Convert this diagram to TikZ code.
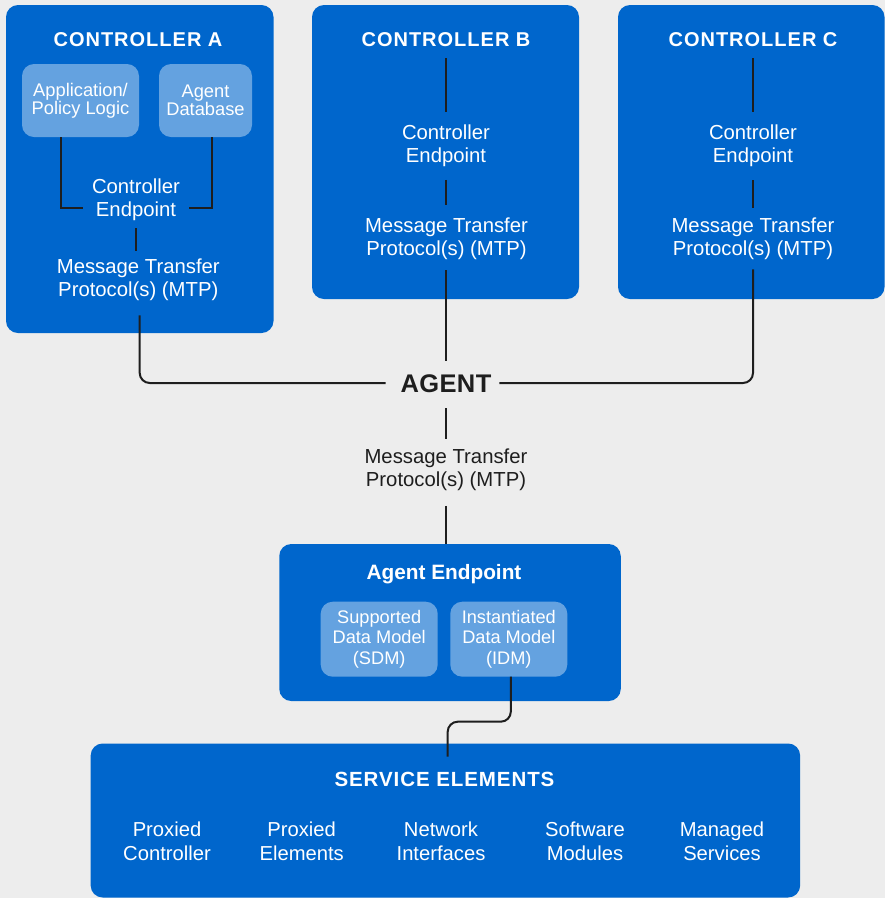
\documentclass[tikz,border=0pt]{standalone}
\usepackage{fontspec}
\setmainfont{Liberation Sans}
\definecolor{bgc}{HTML}{EDEDED}
\definecolor{blu}{HTML}{0066CC}
\definecolor{lblu}{HTML}{64A2E0}
\definecolor{ink}{HTML}{1E1E1E}
\tikzset{
  box/.style={fill=blu, rounded corners=12pt, inner sep=0pt, outer sep=0pt},
  subbox/.style={fill=lblu, rounded corners=12pt, inner sep=0pt, outer sep=0pt, text=white, align=center},
  ttl/.style={text=white, font=\bfseries\fontsize{20}{24}\selectfont\addfontfeatures{LetterSpace=5}, inner sep=0pt, outer sep=0pt},
  lbl/.style={text=white, align=center, font=\fontsize{20.3}{23}\selectfont, inner sep=0pt, outer sep=0pt},
  darklbl/.style={lbl, text=ink},
  item/.style={text=white, align=center, font=\fontsize{20.2}{24}\selectfont, inner sep=0pt, outer sep=0pt},
  link/.style={draw=ink, line width=2pt},
}
\begin{document}
\begin{tikzpicture}[x=1pt,y=-1pt]
\fill[bgc] (0,0) rectangle (885,898);
\useasboundingbox (0,0) rectangle (885,898);

% controller boxes
\node[box, minimum width=267.5pt, minimum height=328pt] (ctrlA) at (139.75,169) {};
\node[box, minimum width=267pt, minimum height=294pt] (ctrlB) at (445.5,152) {};
\node[box, minimum width=266.5pt, minimum height=294pt] (ctrlC) at (751.25,152) {};

% titles
\node[ttl] (ttlA) at (138,40) {CONTROLLER A};
\node[ttl] (ttlB) at (446,40) {CONTROLLER B};
\node[ttl] (ttlC) at (753,40) {CONTROLLER C};

% controller A internals
\node[subbox, minimum width=117pt, minimum height=73pt, font=\fontsize{18.3}{18}\selectfont] (appA) at (80.5,100.5) {Application/\\Policy Logic};
\node[subbox, minimum width=93pt, minimum height=73pt, font=\fontsize{18.3}{18}\selectfont] (dbA) at (205.5,100.5) {Agent\\Database};
\node[lbl] (cepA) at (136,199.5) {Controller\\Endpoint};
\node[lbl] (mtpA) at (138.3,279.5) {Message Transfer\\Protocol(s) (MTP)};

% controller B internals
\node[lbl] (cepB) at (446,145.5) {Controller\\Endpoint};
\node[lbl] (mtpB) at (446.5,238.5) {Message Transfer\\Protocol(s) (MTP)};

% controller C internals
\node[lbl] (cepC) at (753,145.5) {Controller\\Endpoint};
\node[lbl] (mtpC) at (753,238.5) {Message Transfer\\Protocol(s) (MTP)};

% agent
\node[text=ink, font=\bfseries\fontsize{25.5}{30}\selectfont\addfontfeatures{LetterSpace=1.5}, inner sep=0pt, outer sep=0pt] (agent) at (446,384) {AGENT};
\node[darklbl] (mtpM) at (446,469.8) {Message Transfer\\Protocol(s) (MTP)};

% agent endpoint
\node[box, minimum width=341.5pt, minimum height=157pt] (aep) at (450,622.5) {};
\node[text=white, font=\bfseries\fontsize{20.8}{24}\selectfont, inner sep=0pt, outer sep=0pt] (aepT) at (444,574) {Agent Endpoint};
\node[subbox, minimum width=117pt, minimum height=75pt, font=\fontsize{18.2}{20.8}\selectfont] (sdm) at (379.2,639.2) {Supported\\Data Model\\(SDM)};
\node[subbox, minimum width=117pt, minimum height=75pt, font=\fontsize{18.2}{20.8}\selectfont] (idm) at (508.8,639.2) {Instantiated\\Data Model\\(IDM)};

% service elements
\node[box, minimum width=709.5pt, minimum height=154pt] (se) at (445.4,820.5) {};
\node[ttl, font=\bfseries\fontsize{20.5}{24}\selectfont\addfontfeatures{LetterSpace=4.5}] (seT) at (444.5,779.3) {SERVICE ELEMENTS};
\node[item] (s1) at (167,841) {Proxied\\Controller};
\node[item] (s2) at (301.7,841) {Proxied\\Elements};
\node[item] (s3) at (441,841) {Network\\Interfaces};
\node[item] (s4) at (585,841) {Software\\Modules};
\node[item] (s5) at (722,841) {Managed\\Services};

% connectors controller A
\draw[link] ([xshift=-19.5pt]appA.south) |- ([xshift=-9pt,yshift=-8.5pt]cepA.west);
\draw[link] ([xshift=6pt]dbA.south) |- ([xshift=9pt,yshift=-8.5pt]cepA.east);
\draw[link, shorten <=8pt, shorten >=8pt] (cepA.south) -- (cepA.south |- mtpA.north);
\draw[link, rounded corners=10pt, shorten <=15pt, shorten >=15pt] ([xshift=1.4pt]mtpA.south) |- ([yshift=1pt]agent.west);

% connectors controller B
\draw[link, shorten <=11pt, shorten >=12.7pt] (ttlB.south) -- (cepB.north);
\draw[link, shorten <=13.5pt, shorten >=12.7pt] (cepB.south) -- (cepB.south |- mtpB.north);
\draw[link, shorten <=11pt, shorten >=14pt] (mtpB.south -| agent.north) -- (agent.north);

% connectors controller C
\draw[link, shorten <=11pt, shorten >=13pt] (ttlC.south) -- (cepC.north);
\draw[link, shorten <=14pt, shorten >=10pt] (cepC.south) -- (mtpC.north);
\draw[link, rounded corners=10pt, shorten <=10pt, shorten >=8pt] (mtpC.south) |- ([yshift=1pt]agent.east);

% agent downwards
\draw[link, shorten <=15pt, shorten >=9.4pt] (agent.south) -- (mtpM.north);
\draw[link, shorten <=15pt] (mtpM.south) -- (mtpM.south |- aep.north);
\draw[link, rounded corners=10pt] ([xshift=2pt]idm.south) -- ++(0,45) -| ([xshift=2.3pt,yshift=-13pt]se.north);
\end{tikzpicture}
\end{document}
